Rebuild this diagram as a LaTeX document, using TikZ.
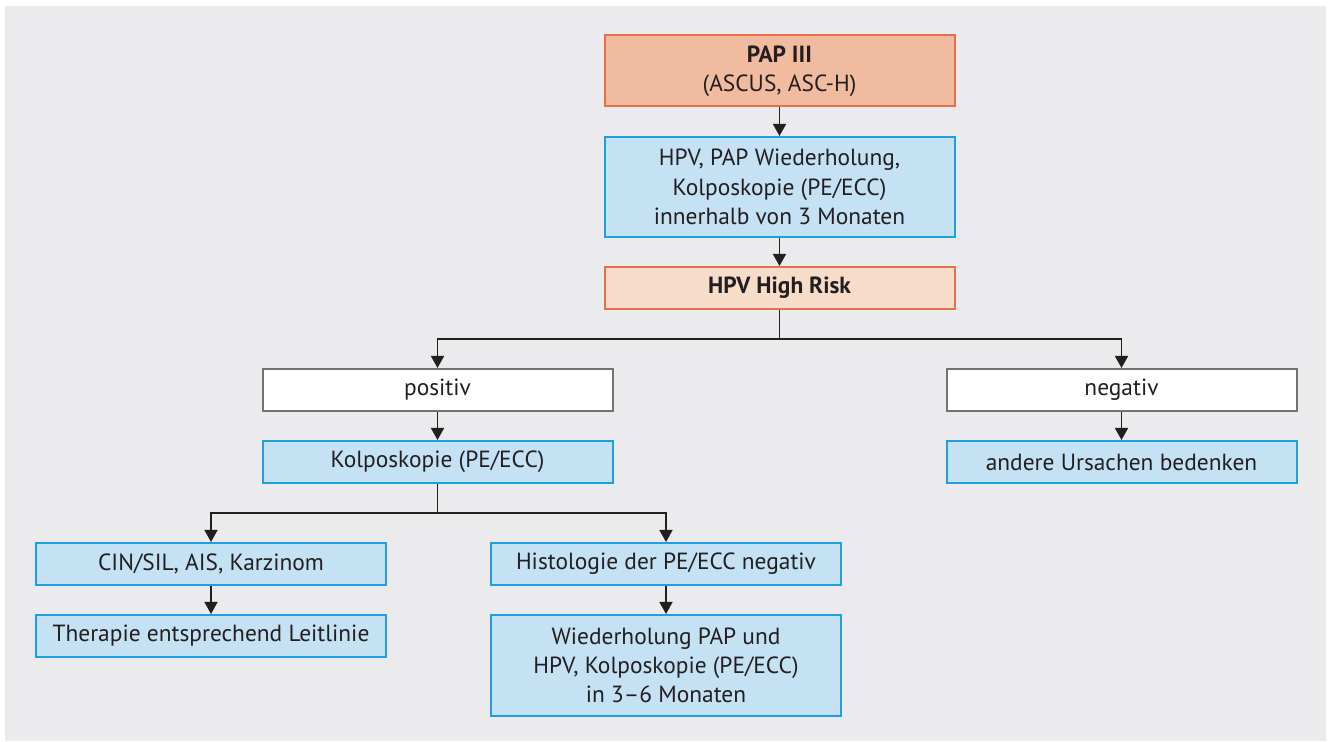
\documentclass[tikz,border=0pt]{standalone}
\usepackage{fontspec}
\setmainfont{PT Sans}
\usepackage{xcolor}
\usetikzlibrary{arrows.meta}

\definecolor{bg}{HTML}{EBEBED}
\definecolor{papfill}{HTML}{F1BB9F}
\definecolor{paporange}{HTML}{E8704A}
\definecolor{riskfill}{HTML}{F7DCCA}
\definecolor{bluefill}{HTML}{C5E1F4}
\definecolor{blueline}{HTML}{1E9FE0}
\definecolor{txt}{HTML}{231F20}

\tikzset{
  box/.style={draw, line width=1pt, minimum width=175pt, minimum height=21pt,
    align=center, text=txt, inner sep=0pt, font=\fontsize{11.7}{14.6}\selectfont},
  bluebox/.style={box, draw=blueline, fill=bluefill},
  orangebox/.style={box, draw=paporange, fill=papfill},
  whitebox/.style={box, draw=black!55, fill=white},
  arr/.style={-{Triangle[width=6.5pt,length=6pt]}, line width=0.8pt, draw=txt},
  lin/.style={line width=0.8pt, draw=txt}
}

\begin{document}
\begin{tikzpicture}[x=0.5pt,y=-0.5pt]
\useasboundingbox (0,0) rectangle (1330,742);
\fill[bg] (5,6) rectangle (1326,741);

% top column
\node[orangebox, minimum height=35.5pt] (pap) at (779.5,71) {\textbf{PAP III}\\(ASCUS, ASC-H)};
\node[bluebox, minimum height=50pt] (hpv) at (779.5,187) {HPV, PAP Wiederholung,\\Kolposkopie (PE/ECC)\\innerhalb von 3 Monaten};
\node[orangebox, fill=riskfill] (risk) at (779.5,288) {\textbf{HPV High Risk}};

% second level
\node[whitebox] (pos) at (437.5,390) {positiv};
\node[whitebox] (neg) at (1121.5,390) {negativ};
\node[bluebox] (kolpo) at (437.5,462) {Kolposkopie (PE/ECC)};
\node[bluebox] (andere) at (1121.5,462) {andere Ursachen bedenken};

% third level
\node[bluebox] (cin) at (211,564) {CIN/SIL, AIS, Karzinom};
\node[bluebox] (thera) at (211,636) {Therapie entsprechend Leitlinie};
\node[bluebox] (histo) at (666,564) {Histologie der PE/ECC negativ};
\node[bluebox, minimum height=50.5pt] (wied) at (666,665.5) {Wiederholung PAP und\\HPV, Kolposkopie (PE/ECC)\\in 3--6 Monaten};

\coordinate (split1) at (779.5,339);
\coordinate (split2) at (437.5,513);

\draw[arr] (pap) -- (hpv);
\draw[arr] (hpv) -- (risk);
\draw[lin] (risk) -- (split1);
\draw[arr] (split1) -| (pos);
\draw[arr] (split1) -| (neg);
\draw[arr] (pos) -- (kolpo);
\draw[arr] (neg) -- (andere);
\draw[lin] (kolpo) -- (split2);
\draw[arr] (split2) -| (cin);
\draw[arr] (split2) -| (histo);
\draw[arr] (cin) -- (thera);
\draw[arr] (histo) -- (wied);
\end{tikzpicture}
\end{document}
